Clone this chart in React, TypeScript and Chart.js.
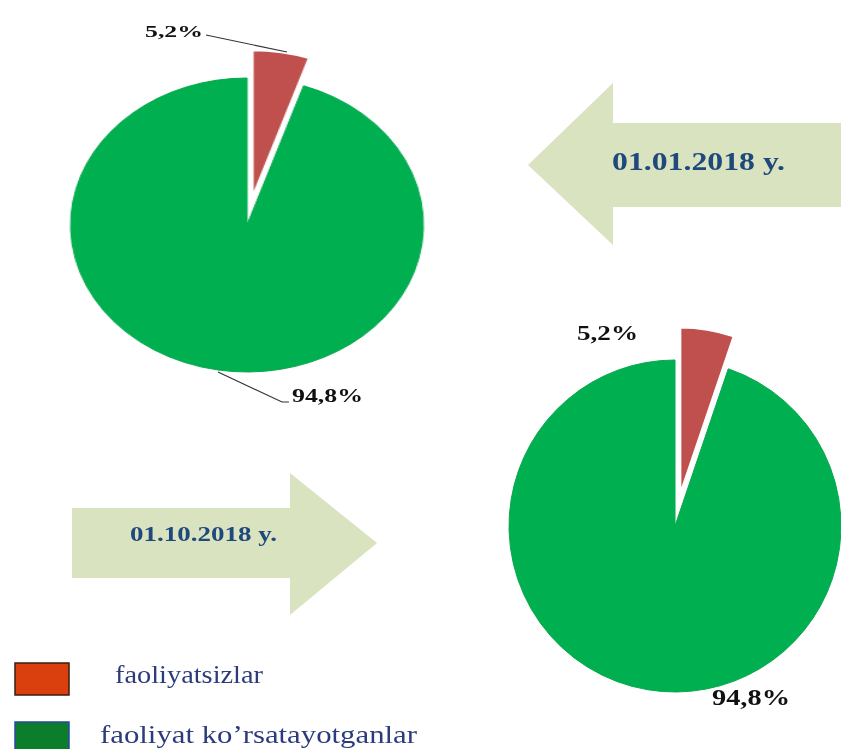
import React, { useEffect, useRef } from 'react';
import { Chart, registerables } from 'chart.js';

Chart.register(...registerables);

// ---- data ----
const categories = ['faoliyatsizlar', 'faoliyat ko\u2019rsatayotganlar'];
const periods = ['01.01.2018 y.', '01.10.2018 y.'];
const sharesJan = [5.2, 94.8];
const sharesOct = [5.2, 94.8];
const sliceColors = ['#c0504d', '#00b050'];
const legendColors = ['#d9400e', '#0b7d2b'];
const legendBorders = ['#3b1d12', '#2748a6'];

const fmt = (v: number) => v.toFixed(1).replace('.', ',') + '%';

// moves the first slice outwards along its own mid angle (exploded slice)
const explodePlugin = {
  id: 'explodeFirst',
  afterDatasetsUpdate(chart: any, _args: any, opts: any) {
    const meta = chart.getDatasetMeta(0);
    const arc = meta.data[0];
    if (!arc) return;
    const mid = (arc.startAngle + arc.endAngle) / 2;
    const d = opts.distance || 0;
    arc.x += Math.cos(mid) * d;
    arc.y += Math.sin(mid) * d;
  },
};

type PieProps = {
  values: number[];
  radius: number;
  explode: number;
  left: number;
  top: number;
  size: number;
  scaleX: number;
};

function Pie({ values, radius, explode, left, top, size, scaleX }: PieProps) {
  const ref = useRef<HTMLCanvasElement>(null);
  useEffect(() => {
    const chart = new Chart(ref.current as HTMLCanvasElement, {
      type: 'pie',
      data: {
        labels: categories,
        datasets: [
          {
            data: values,
            backgroundColor: sliceColors,
            borderColor: ['#ffffff', '#06a84c'],
            borderWidth: [2, 1],
          } as any,
        ],
      },
      options: {
        responsive: false,
        animation: false,
        radius,
        events: [],
        layout: { padding: 0 },
        plugins: {
          legend: { display: false },
          tooltip: { enabled: false },
          explodeFirst: { distance: explode },
        },
      } as any,
      plugins: [explodePlugin as any],
    });
    return () => chart.destroy();
  }, []);
  return (
    <canvas
      ref={ref}
      width={size}
      height={size}
      style={{
        position: 'absolute',
        left,
        top,
        width: size,
        height: size,
        transform: `scaleX(${scaleX})`,
        transformOrigin: 'center center',
      }}
    />
  );
}

const serif = "'Liberation Serif', 'Times New Roman', serif";

export default function App() {
  return (
    <div
      style={{
        position: 'fixed',
        left: 0,
        top: 0,
        width: 841,
        height: 749,
        overflow: 'hidden',
        background: '#ffffff',
      }}
    >
      <Pie values={sharesJan} radius={147} explode={28} left={57} top={35} size={380} scaleX={1.2} />
      <Pie values={sharesOct} radius={166} explode={33} left={475} top={326} size={400} scaleX={1} />
      <svg
        width={841}
        height={749}
        style={{ position: 'absolute', left: 0, top: 0, pointerEvents: 'none' }}
      >
        {/* arrows */}
        <polygon
          points="860,123 613,123 613,83 528,165 613,245 613,207 860,207"
          fill="#d9e3c0"
        />
        <polygon
          points="72,508 290,508 290,473 377,543 290,615 290,578 72,578"
          fill="#d9e3c0"
        />
        <text
          x={612}
          y={170}
          fontFamily={serif}
          fontWeight="bold"
          fontSize={26}
          fill="#1f497d"
          textLength={173}
          lengthAdjust="spacingAndGlyphs"
        >
          {periods[0]}
        </text>
        <text
          x={130}
          y={541}
          fontFamily={serif}
          fontWeight="bold"
          fontSize={21}
          fill="#1f497d"
          textLength={147}
          lengthAdjust="spacingAndGlyphs"
        >
          {periods[1]}
        </text>

        {/* pie 1 labels */}
        <polyline points="206,35 287,52" fill="none" stroke="#333333" strokeWidth={1.2} />
        <polyline points="218,372 282,402 289,402" fill="none" stroke="#333333" strokeWidth={1.2} />
        <text
          x={145}
          y={37}
          fontFamily={serif}
          fontWeight="bold"
          fontSize={17}
          fill="#111111"
          textLength={58}
          lengthAdjust="spacingAndGlyphs"
        >
          {fmt(sharesJan[0])}
        </text>
        <text
          x={292}
          y={402}
          fontFamily={serif}
          fontWeight="bold"
          fontSize={18}
          fill="#111111"
          textLength={71}
          lengthAdjust="spacingAndGlyphs"
        >
          {fmt(sharesJan[1])}
        </text>

        {/* pie 2 labels */}
        <text
          x={577}
          y={340}
          fontFamily={serif}
          fontWeight="bold"
          fontSize={21}
          fill="#111111"
          textLength={61}
          lengthAdjust="spacingAndGlyphs"
        >
          {fmt(sharesOct[0])}
        </text>
        <text
          x={712}
          y={705}
          fontFamily={serif}
          fontWeight="bold"
          fontSize={24}
          fill="#111111"
          textLength={78}
          lengthAdjust="spacingAndGlyphs"
        >
          {fmt(sharesOct[1])}
        </text>

        {/* legend */}
        <rect x={15} y={663} width={54} height={32} fill={legendColors[0]} stroke={legendBorders[0]} strokeWidth={1.5} />
        <rect x={15} y={722} width={54} height={40} fill={legendColors[1]} stroke={legendBorders[1]} strokeWidth={1.5} />
        <text
          x={115}
          y={683}
          fontFamily={serif}
          fontSize={26}
          fill="#2b3b7b"
          textLength={148}
          lengthAdjust="spacingAndGlyphs"
        >
          {categories[0]}
        </text>
        <text
          x={100}
          y={743}
          fontFamily={serif}
          fontSize={26}
          fill="#2b3b7b"
          textLength={317}
          lengthAdjust="spacingAndGlyphs"
        >
          {categories[1]}
        </text>
      </svg>
    </div>
  );
}
